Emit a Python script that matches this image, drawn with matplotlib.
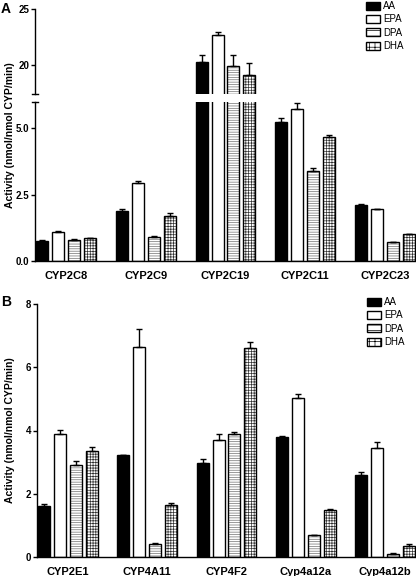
import matplotlib
matplotlib.use("Agg")
import matplotlib.pyplot as plt
import numpy as np
from matplotlib.patches import Patch

plt.rcParams['font.family'] = ['Liberation Sans', 'DejaVu Sans']
plt.rcParams['hatch.linewidth'] = 0.5

acids = ['AA', 'EPA', 'DPA', 'DHA']

# panel A
cyp_a = ['CYP2C8', 'CYP2C9', 'CYP2C19', 'CYP2C11', 'CYP2C23']
mean_a = [
    [0.76, 1.88, 20.3, 5.25, 2.11],   # AA
    [1.10, 2.92, 22.7, 5.73, 1.95],   # EPA
    [0.79, 0.92, 19.9, 3.39, 0.70],   # DPA
    [0.85, 1.69, 19.1, 4.68, 1.00],   # DHA
]
err_a = [
    [0.02, 0.07, 0.6, 0.13, 0.03],
    [0.02, 0.09, 0.25, 0.23, 0.02],
    [0.03, 0.03, 0.95, 0.10, 0.03],
    [0.03, 0.10, 1.05, 0.06, 0.02],
]

# panel B
cyp_b = ['CYP2E1', 'CYP4A11', 'CYP4F2', 'Cyp4a12a', 'Cyp4a12b']
mean_b = [
    [1.60, 3.22, 2.97, 3.80, 2.59],
    [3.90, 6.65, 3.71, 5.04, 3.45],
    [2.92, 0.42, 3.88, 0.69, 0.11],
    [3.35, 1.66, 6.62, 1.48, 0.36],
]
err_b = [
    [0.07, 0.02, 0.14, 0.04, 0.10],
    [0.11, 0.55, 0.19, 0.11, 0.19],
    [0.11, 0.02, 0.08, 0.02, 0.01],
    [0.13, 0.04, 0.18, 0.05, 0.05],
]

faces = ['black', 'white', 'white', 'white']
hatches = [None, None, '-------', '++++++']
hatch_cols = ['black', 'black', '#707070', '#303030']

pitch = 0.2
width = 0.15


def draw_bars(ax, means, errs):
    x = np.arange(len(means[0]))
    for i in range(4):
        xi = x + (i - 1.5) * pitch
        if hatches[i]:
            ax.bar(xi, means[i], width, color='white', edgecolor=hatch_cols[i],
                   hatch=hatches[i], linewidth=0)
        ax.bar(xi, means[i], width, color=faces[i] if not hatches[i] else 'none',
               edgecolor='black', linewidth=1.0)
        ax.errorbar(xi, means[i], yerr=[np.zeros(len(errs[i])), errs[i]],
                    fmt='none', ecolor='black', elinewidth=1.0, capsize=2.5,
                    capthick=1.0)


def style(ax):
    ax.spines['top'].set_visible(False)
    ax.spines['right'].set_visible(False)
    ax.spines['left'].set_linewidth(1.0)
    ax.spines['bottom'].set_linewidth(1.0)
    ax.tick_params(axis='y', direction='out', length=3, width=1, labelsize=7, pad=1)
    for lab in ax.get_yticklabels():
        lab.set_fontweight('bold')
    ax.set_xlim(-0.39, 4.39)


def legend_handles():
    hs = []
    for i in range(4):
        hs.append(Patch(facecolor=faces[i], edgecolor='black',
                        hatch=('---' if i == 2 else ('+++' if i == 3 else None)),
                        linewidth=1.0))
    return hs


fig = plt.figure(figsize=(4.16, 5.76), dpi=100)

W, H = 416.0, 576.0
ax_hi = fig.add_axes([35 / W, 1 - 94 / H, 381 / W, 85 / H])
ax_lo = fig.add_axes([35 / W, 1 - 261 / H, 381 / W, 159.3 / H])
ax_b = fig.add_axes([37 / W, 1 - 557 / H, 379 / W, 253 / H])

draw_bars(ax_hi, mean_a, err_a)
draw_bars(ax_lo, mean_a, err_a)
draw_bars(ax_b, mean_b, err_b)

ax_hi.set_ylim(17.4, 25)
ax_hi.set_yticks([20, 25])
ax_hi.set_yticklabels(['20', '25'])
ax_hi.spines['bottom'].set_visible(False)
ax_hi.set_xticks([])

ax_lo.set_ylim(0, 6.0)
ax_lo.set_yticks([0, 2.5, 5.0])
ax_lo.set_yticklabels(['0.0', '2.5', '5.0'])
ax_lo.set_xticks(range(len(cyp_a)))
ax_lo.set_xticklabels(cyp_a, fontweight='bold', fontsize=8)
ax_lo.tick_params(axis='x', length=0, pad=7)

ax_b.set_ylim(0, 8)
ax_b.set_yticks([0, 2, 4, 6, 8])
ax_b.set_xticks(range(len(cyp_b)))
ax_b.set_xticklabels(cyp_b, fontweight='bold', fontsize=8)
ax_b.tick_params(axis='x', length=0, pad=7)

for ax in (ax_hi, ax_lo, ax_b):
    style(ax)

# break caps on the y axis
cap = 3.0 / 381
ax_hi.plot([-cap, cap], [0, 0], color='black', lw=1.0, transform=ax_hi.transAxes, clip_on=False)
ax_lo.plot([-cap, cap], [1, 1], color='black', lw=1.0, transform=ax_lo.transAxes, clip_on=False)

fig.text(10 / W, 1 - 135 / H, 'Activity (nmol/nmol CYP/min)', rotation=90,
         ha='center', va='center', fontsize=7.5, fontweight='bold')
fig.text(10 / W, 1 - 430 / H, 'Activity (nmol/nmol CYP/min)', rotation=90,
         ha='center', va='center', fontsize=7.5, fontweight='bold')

fig.text(1 / W, 1 - 9 / H, 'A', fontsize=10, fontweight='bold', ha='left', va='center')
fig.text(1 / W, 1 - 302 / H, 'B', fontsize=10, fontweight='bold', ha='left', va='center')

leg_kw = dict(frameon=False, fontsize=7, handlelength=1.4, handleheight=0.9,
              handletextpad=0.35, labelspacing=0.35, borderpad=0, borderaxespad=0,
              loc='upper left')
fig.legend(legend_handles(), acids, bbox_to_anchor=(366 / W, 1 - 1 / H), **leg_kw)
fig.legend(legend_handles(), acids, bbox_to_anchor=(367 / W, 1 - 297 / H), **leg_kw)

fig.savefig('out.png', dpi=100)
